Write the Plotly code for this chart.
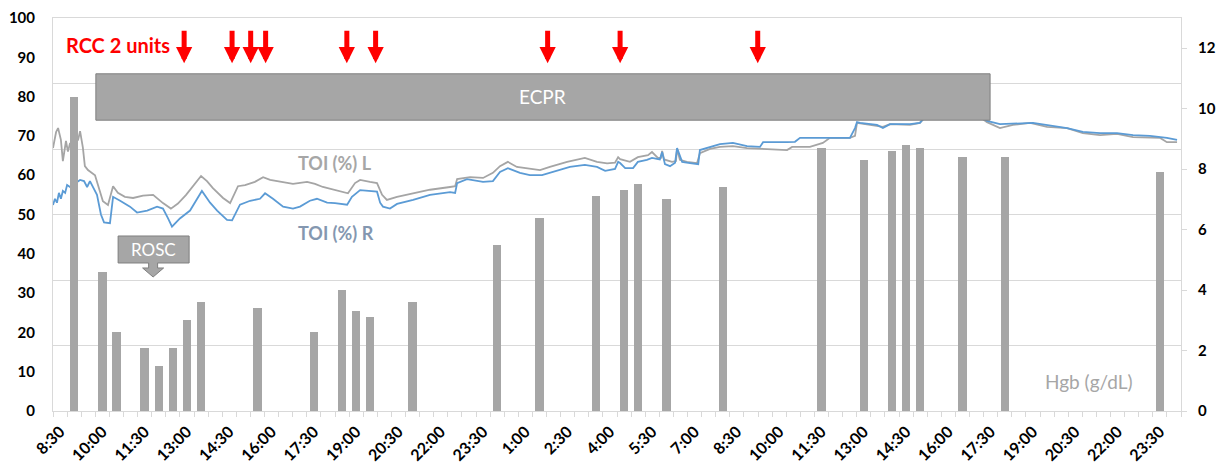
import plotly.graph_objects as go

# ---- time axis: hours since 8:30 on day 1, 30-minute categories ----
TICK_LABELS = ["8:30", "10:00", "11:30", "13:00", "14:30", "16:00", "17:30", "19:00", "20:30",
               "22:00", "23:30", "1:00", "2:30", "4:00", "5:30", "7:00", "8:30", "10:00",
               "11:30", "13:00", "14:30", "16:00", "17:30", "19:00", "20:30", "22:00", "23:30"]
TICK_HOURS = [0, 1.5, 3, 4.5, 6, 7.5, 9, 10.5, 12, 13.5, 15, 16.5, 18, 19.5, 21, 22.5, 24,
              25.5, 27, 28.5, 30, 31.5, 33, 34.5, 36, 37.5, 39]

# ---- TOI (%) L  (gray) ----
toi_l_hours = [-0.25, -0.14, -0.07, 0.03, 0.10, 0.21, 0.28, 0.35, 0.49, 0.64, 0.71, 0.81, 0.88,
               0.99, 1.24, 1.42, 1.52, 1.70, 1.88, 2.05, 2.30, 2.59, 2.94, 3.30, 3.47, 3.65,
               3.93, 4.18, 4.47, 4.79, 5.00, 5.21, 5.42, 5.78, 6.03, 6.31, 6.56, 6.91, 7.20,
               7.45, 7.80, 8.26, 8.76, 9.04, 9.32, 9.75, 10.21, 10.46, 10.64, 10.99, 11.24,
               11.42, 11.59, 11.95, 12.52, 13.12, 13.83, 14.01, 14.08, 14.54, 15.00, 15.35,
               15.60, 15.88, 16.20, 16.66, 17.02, 17.37, 17.98, 18.61, 19.04, 19.40, 19.68,
               19.79, 19.86, 20.21, 20.49, 20.85, 20.99, 21.20, 21.31, 21.35, 21.42, 21.70,
               21.84, 21.88, 21.98, 22.23, 22.59, 22.69, 23.05, 23.40, 23.86, 24.36, 24.93,
               25.78, 25.96, 26.59, 27.05, 27.30, 28.01, 28.19, 28.26, 28.72, 29.18, 29.43,
               30.14, 30.49, 30.67, 32.62, 32.87, 33.33, 33.79, 34.40, 35.00, 35.71, 36.27,
               36.88, 37.48, 38.05, 38.65, 39.01, 39.25, 39.61]
toi_l = [66.9, 71.0, 72.0, 69.0, 63.6, 68.7, 66.0, 68.0, 68.0, 69.0, 71.2, 67.0, 62.3,
         61.3, 60.0, 55.5, 53.4, 52.4, 57.2, 55.5, 54.5, 54.2, 54.8, 55.0, 54.0, 52.9,
         51.5, 52.8, 55.0, 58.0, 59.8, 58.5, 56.7, 54.2, 52.9, 57.2, 57.5, 58.3, 59.5,
         58.8, 58.3, 57.8, 58.3, 57.8, 57.0, 56.2, 55.4, 58.0, 58.8, 58.3, 58.0,
         55.0, 53.7, 54.5, 55.4, 56.3, 57.0, 57.2, 59.0, 59.5, 59.3, 60.6,
         62.3, 63.4, 62.1, 61.6, 61.3, 62.1, 63.4, 64.4, 63.4, 63.0, 63.2,
         64.6, 64.1, 63.4, 64.6, 65.1, 65.9, 64.4, 64.4, 66.2, 64.0, 63.4,
         63.6, 66.7, 63.9, 63.4, 63.1, 65.6, 66.7, 67.2, 67.4, 66.9, 66.7,
         66.4, 67.2, 67.2, 68.2, 69.5, 69.5, 70.0, 73.3, 72.8, 72.3, 73.0,
         72.8, 73.3, 74.8, 74.8, 73.5, 72.0, 72.8, 73.3, 72.3, 72.0, 70.7,
         70.2, 70.5, 69.7, 69.5, 69.5, 68.4, 68.4]

# ---- TOI (%) R  (blue) ----
toi_r_hours = [-0.25, -0.18, -0.11, -0.04, 0.03, 0.10, 0.18, 0.25, 0.35, 0.53, 0.71, 0.85, 0.96,
               1.06, 1.31, 1.45, 1.56, 1.77, 1.88, 2.13, 2.48, 2.73, 3.09, 3.44, 3.65, 3.83,
               3.97, 4.25, 4.61, 4.82, 5.03, 5.32, 5.57, 5.92, 6.10, 6.38, 6.74, 7.09, 7.27,
               7.55, 7.91, 8.26, 8.51, 8.86, 9.11, 9.47, 9.75, 10.18, 10.35, 10.64, 11.24,
               11.35, 11.45, 11.70, 11.95, 12.52, 13.12, 13.83, 14.01, 14.08, 14.43, 15.00,
               15.35, 15.60, 15.88, 16.31, 16.66, 17.09, 17.48, 18.08, 18.61, 19.04, 19.33,
               19.68, 19.79, 19.86, 20.04, 20.32, 20.49, 20.81, 20.99, 21.27, 21.35, 21.45,
               21.63, 21.81, 21.88, 22.06, 22.34, 22.63, 22.69, 23.05, 23.40, 23.86, 24.36,
               24.82, 24.93, 25.78, 26.06, 26.24, 26.59, 28.01, 28.19, 28.26, 28.37, 28.97,
               29.18, 29.43, 30.14, 30.49, 30.67, 32.62, 32.87, 33.33, 34.50, 35.00, 35.71,
               36.27, 36.88, 37.48, 38.05, 38.65, 39.25, 39.61]
toi_r = [52.4, 54.0, 53.0, 55.5, 54.0, 56.0, 55.5, 57.5, 57.0, 58.0, 58.8, 58.5, 57.0,
         58.5, 55.0, 50.0, 48.0, 47.8, 54.5, 53.5, 52.0, 50.5, 51.0, 52.0, 51.5, 49.0,
         46.9, 49.0, 51.0, 53.5, 56.0, 53.0, 51.0, 48.6, 48.5, 52.5, 53.5, 54.0, 55.4,
         54.0, 52.0, 51.5, 52.0, 53.5, 54.0, 53.0, 52.9, 52.5, 54.5, 56.2, 55.8,
         53.0, 52.0, 51.5, 52.7, 53.7, 55.0, 55.7, 55.5, 58.0, 59.0, 58.3,
         58.5, 60.8, 61.8, 60.6, 60.0, 60.0, 60.8, 62.1, 62.6, 62.1, 61.1,
         61.6, 63.4, 63.1, 61.8, 61.8, 63.4, 63.9, 64.4, 64.0, 65.9, 62.8,
         62.3, 63.2, 66.9, 63.4, 63.1, 62.8, 66.4, 67.2, 67.9, 68.2, 67.4,
         67.2, 68.4, 68.4, 68.5, 69.5, 69.5, 69.5, 72.0, 73.5, 73.3, 72.8,
         72.0, 73.0, 73.0, 73.3, 74.8, 74.8, 73.8, 73.0, 73.3, 72.8, 72.0,
         71.0, 70.7, 70.7, 70.2, 70.0, 69.5, 69.0]

# ---- Hgb (g/dL) bars ----
hgb_hours = [0.5, 1.5, 2, 3, 3.5, 4, 4.5, 5, 7, 9, 10, 10.5, 11, 12.5, 15.5, 17, 19, 20,
             20.5, 21.5, 23.5, 27, 28.5, 29.5, 30, 30.5, 32, 33.5, 39]
hgb = [10.4, 4.6, 2.6, 2.1, 1.5, 2.1, 3.0, 3.6, 3.4, 2.6, 4.0, 3.3, 3.1, 3.6, 5.5, 6.4,
       7.1, 7.3, 7.5, 7.0, 7.4, 8.7, 8.3, 8.6, 8.8, 8.7, 8.4, 8.4, 7.9]

# ---- events ----
rcc_hours = [4.4, 6.1, 6.76, 7.29, 10.17, 11.19, 17.29, 19.86, 24.74]
ECPR_START, ECPR_END = 1.27, 32.98
ROSC_HOUR = 3.30

FONT = "Lato"
GRAY = "#A5A5A5"
BLUE = "#5B9BD5"
GRID = "#D9D9D9"

fig = go.Figure()
fig.add_trace(go.Scatter(x=toi_l_hours, y=toi_l, mode="lines",
                         line=dict(color=GRAY, width=1.8), yaxis="y", showlegend=False))
fig.add_trace(go.Scatter(x=toi_r_hours, y=toi_r, mode="lines",
                         line=dict(color=BLUE, width=1.8), yaxis="y", showlegend=False))
fig.add_trace(go.Bar(x=hgb_hours, y=hgb, width=0.3, marker=dict(color="#A6A6A6", line=dict(width=0)),
                     yaxis="y2", showlegend=False))
fig.add_trace(go.Scatter(x=[], y=[], yaxis="y3", showlegend=False))

shapes = [
    dict(type="rect", xref="x", yref="y", x0=ECPR_START, x1=ECPR_END, y0=74, y1=85.8,
         fillcolor="#A6A6A6", line=dict(color="#7F7F7F", width=1), layer="above"),
    dict(type="path", xref="x", yref="y", xsizemode="pixel", ysizemode="pixel",
         xanchor=ROSC_HOUR, yanchor=34.1,
         path="M-35,41 L36,41 L36,14 L4.5,14 L4.5,9 L10.5,9 L0,0 L-10.5,9 L-4.5,9 L-4.5,14 L-35,14 Z",
         fillcolor="#A6A6A6", line=dict(color="#7F7F7F", width=1), layer="above"),
]

annotations = [
    dict(text="<b>RCC 2 units</b>", xref="paper", yref="y", x=0.0098, y=93.1, xanchor="left",
         showarrow=False, font=dict(family=FONT, size=20, color="#FF0000")),
    dict(text="ECPR", xref="x", yref="y", x=(ECPR_START + ECPR_END) / 2, y=79.9,
         showarrow=False, font=dict(family=FONT, size=19, color="white")),
    dict(text="ROSC", xref="x", yref="y", x=ROSC_HOUR, y=34.1, yshift=27.5,
         showarrow=False, font=dict(family=FONT, size=17, color="white")),
    dict(text="<b>TOI (%) L</b>", xref="x", yref="y", x=9.75, y=63.1, showarrow=False,
         font=dict(family=FONT, size=18, color="#A6A6A6")),
    dict(text="<b>TOI (%) R</b>", xref="x", yref="y", x=9.79, y=45.3, showarrow=False,
         font=dict(family=FONT, size=18, color="#8497B0")),
    dict(text="Hgb (g/dL)", xref="x", yref="y2", x=36.5, y=0.96, showarrow=False,
         font=dict(family=FONT, size=19, color="#A6A6A6")),
]
for t in rcc_hours:
    annotations.append(dict(x=t, y=88.5, xref="x", yref="y", ax=0, ay=-34, text="",
                            showarrow=True, arrowhead=2, arrowsize=0.65, arrowwidth=5,
                            arrowcolor="#FF0000", standoff=0))

tickfont = dict(family=FONT, size=15, color="#000000", weight="bold")
xtickfont = dict(family=FONT, size=16, color="#000000", weight="bold")

# the page body adds an 8px margin, so the figure is sized to fill the window exactly
fig.update_layout(
    width=1218, height=458,
    margin=dict(l=45, r=45, t=10, b=55, autoexpand=False),
    paper_bgcolor="white", plot_bgcolor="white",
    showlegend=False, bargap=0,
    xaxis=dict(range=[-0.25, 39.75], tickvals=TICK_HOURS, ticktext=TICK_LABELS,
               tickangle=-45, ticks="", tickfont=xtickfont, ticklabelstandoff=4,
               automargin=False, mirror=True,
               showgrid=False, zeroline=False, showline=True, linecolor=GRID, linewidth=1,
               minor=dict(tick0=-0.25, dtick=0.5, ticks="outside", ticklen=5,
                          tickcolor=GRID, showgrid=False)),
    yaxis=dict(range=[0, 100], dtick=10, showgrid=False, zeroline=False, showline=True,
               linecolor=GRID, ticks="", tickfont=tickfont, ticklabelstandoff=14,
               automargin=False),
    yaxis2=dict(range=[0, 13], tickvals=[0, 2, 4, 6, 8, 10, 12], overlaying="y", side="right",
                showgrid=False, zeroline=False, showline=True, linecolor=GRID,
                ticks="outside", ticklen=5, tickcolor=GRID, tickfont=tickfont,
                ticklabelstandoff=8, automargin=False),
    yaxis3=dict(range=[0, 6], dtick=1, overlaying="y", side="left", showgrid=True,
                gridcolor=GRID, gridwidth=1, showticklabels=False, zeroline=False,
                showline=False, ticks="", automargin=False),
    shapes=shapes, annotations=annotations,
)

fig.write_html("out.html")
